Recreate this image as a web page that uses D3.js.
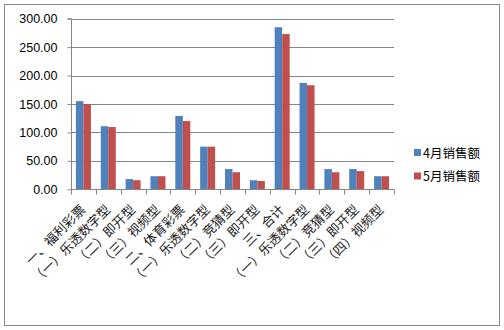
<!DOCTYPE html>
<html><head><meta charset="utf-8">
<script src="https://cdn.jsdelivr.net/npm/d3@7"></script>
<style>body{margin:0;background:#fff}svg{display:block}</style>
</head><body>
<script>
const categories = ["一、福利彩票","（一）乐透数字型","（二）即开型","（三）视频型","二、体育彩票","（一）乐透数字型","（二）竞猜型","（三）即开型","三、合计","（一）乐透数字型","（二）竞猜型","（三）即开型","（四）视频型"];
const aprilSales = [155,111,18,23,129,75,35.6,16,285,187,35.6,35.6,23];
const maySales = [150,109.5,16,23,120,75,30,14.6,273,183,30,32,23];
const seriesNames = ["4月销售额","5月销售额"];
const colors = ["#4f81bd","#c0504d"];
const yTicks = [0,50,100,150,200,250,300];

(function(){
const W=504,H=330;
const svg=d3.select("body").append("svg").attr("width",W).attr("height",H);
svg.append("rect").attr("x",4.5).attr("y",4.5).attr("width",495).attr("height",321).attr("fill","#fff").attr("stroke","#888");

const pl=71,pr=394,pt=18.7,pb=189.3;
const x=d3.scaleBand().domain(d3.range(categories.length)).range([pl,pr]).paddingInner(0).paddingOuter(0);
const y=d3.scaleLinear().domain([0,300]).range([pb,pt]);

svg.append("g").selectAll("line").data(yTicks.slice(1)).join("line")
 .attr("x1",pl).attr("x2",pr).attr("y1",d=>Math.round(y(d))+0.5).attr("y2",d=>Math.round(y(d))+0.5)
 .attr("stroke","#868686").attr("stroke-width",1);

const bw=7.5;
const series=[aprilSales,maySales];
series.forEach((vals,si)=>{
  svg.append("g").selectAll("rect").data(vals).join("rect")
   .attr("x",(d,i)=>x(i)+x.bandwidth()/2-bw+si*bw)
   .attr("width",bw)
   .attr("y",d=>y(d)).attr("height",d=>y(0)-y(d))
   .attr("fill",colors[si]);
});

const ya=svg.append("g").attr("transform",`translate(${pl+0.5},0)`)
 .call(d3.axisLeft(y).tickValues(yTicks).tickFormat(d3.format(".2f")).tickSize(4).tickPadding(10));
ya.select(".domain").attr("stroke","#868686").attr("d",`M-4,${pt}H0V${pb+0.5}`);
ya.selectAll(".tick line").attr("stroke","#868686");
ya.selectAll("text").attr("font-family","'Liberation Sans',Arial,sans-serif").attr("font-size","12.5px").attr("fill","#000");

const xa=svg.append("g").attr("transform",`translate(0,${Math.round(pb)+0.5})`);
xa.append("line").attr("x1",pl).attr("x2",pr).attr("stroke","#868686");
xa.selectAll("line.t").data(d3.range(categories.length+1)).join("line").attr("class","t")
 .attr("x1",i=>Math.round(pl+i*x.bandwidth())+0.5).attr("x2",i=>Math.round(pl+i*x.bandwidth())+0.5)
 .attr("y1",0).attr("y2",5).attr("stroke","#868686");
xa.selectAll("text").data(categories).join("text")
 .attr("transform",(d,i)=>`translate(${x(i)+x.bandwidth()/2+3},21) rotate(-45)`)
 .attr("text-anchor","end").attr("font-family","'Noto Sans CJK SC',sans-serif").attr("font-size","13px").attr("fill","#222")
 .text(d=>d);

const lg=svg.append("g").attr("transform","translate(414,0)");
seriesNames.forEach((n,i)=>{
  const yy=153+i*23.5;
  lg.append("rect").attr("x",0).attr("y",yy-4).attr("width",7).attr("height",7).attr("fill",colors[i]);
  lg.append("text").attr("x",9).attr("y",yy+4.5).attr("font-family","'Noto Sans CJK SC',sans-serif").attr("font-size","12.5px").attr("fill","#000").text(n);
});
})();
</script>
</body></html>
